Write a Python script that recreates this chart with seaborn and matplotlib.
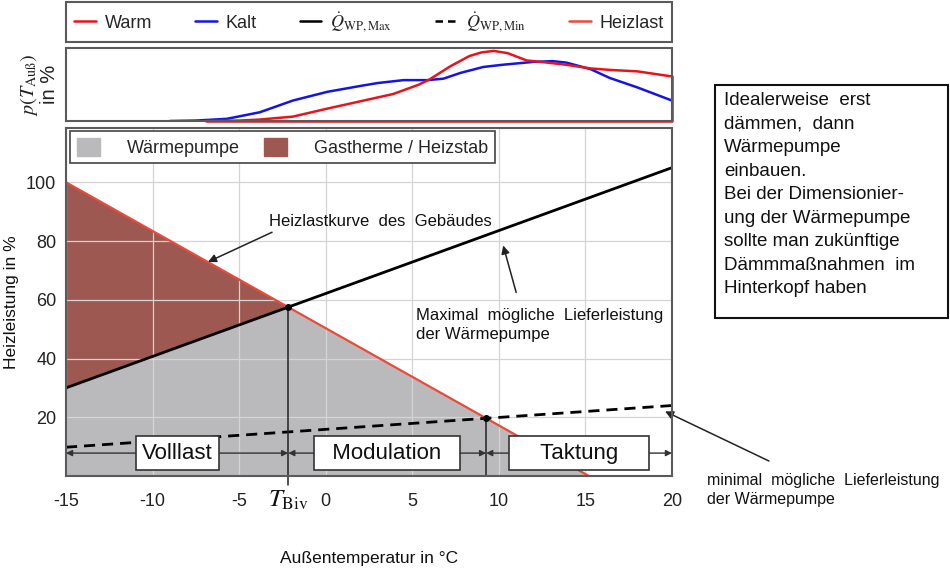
import numpy as np
import matplotlib.pyplot as plt
import matplotlib.patches as mpatches
import matplotlib.transforms as mtransforms
from matplotlib.lines import Line2D
import seaborn as sns

# Häufigkeit der Außentemperatur (oberes Diagramm), Werte in %
temp_kalt = [-9.0, -7.5, -5.7, -3.8, -1.9, 0.1, 2.0, 3.0, 4.5, 5.9, 6.8,
             7.8, 9.1, 10.2, 12.0, 13.1, 13.9, 15.3, 16.4, 18.0, 20.0]
p_kalt = [0, 0.03, 0.15, 0.6, 1.4, 2.0, 2.4, 2.6, 2.8, 2.8, 2.9,
          3.3, 3.7, 3.85, 4.05, 4.1, 4.0, 3.55, 2.95, 2.3, 1.4]
temp_warm = [-6.9, -5.0, -3.8, -1.9, 0.1, 2.0, 3.9, 5.4, 6.0, 7.2, 8.3,
             9.0, 9.7, 10.5, 11.6, 12.8, 13.9, 15.3, 16.4, 18.0, 20.0]
p_warm = [0, 0.03, 0.1, 0.3, 0.85, 1.35, 1.85, 2.5, 2.85, 3.75, 4.45,
          4.7, 4.8, 4.65, 4.15, 4.0, 3.85, 3.6, 3.5, 3.4, 3.05]

# Heizlast und Lieferleistung der Wärmepumpe (unteres Diagramm), Werte in %
temp_heizlast = [-15, 15.2]
heizlast = [100, 0]
temp_wp = [-15, 20]
wp_max = [30, 105]
wp_min = [9.8, 24]

phase_labels = ['Volllast', '  Modulation  ', '    Taktung    ']
x_ticks = [-15, -10, -5, 0, 5, 10, 15, 20]
y_ticks = [20, 40, 60, 80, 100]

c_warm = '#e8141c'
c_kalt = '#1414e6'
c_heiz = '#ec4a38'
c_grau = '#bababc'
c_braun = '#9c5851'
c_rahmen = '#5a5a5a'

sns.set_theme(style='white')
plt.rcParams['font.family'] = ['Liberation Sans', 'DejaVu Sans']
plt.rcParams['mathtext.fontset'] = 'stix'
plt.rcParams['axes.unicode_minus'] = False

W, H = 950, 570
fig = plt.figure(figsize=(W / 100, H / 100), dpi=100)
ax = fig.add_axes([66 / W, 94 / H, 606 / W, 348 / H])
ax_top = fig.add_axes([66 / W, 449 / H, 606 / W, 73 / H])

# --- oberes Diagramm ---
sns.lineplot(x=temp_kalt, y=p_kalt, ax=ax_top, color=c_kalt, lw=1.8)
sns.lineplot(x=temp_warm, y=p_warm, ax=ax_top, color=c_warm, lw=1.8)
ax_top.plot([temp_warm[-1], temp_warm[-1], temp_warm[0]], [p_warm[-1], 0, 0],
            color=c_warm, lw=1.8, clip_on=False)
ax_top.set_xlim(-15, 20)
ax_top.set_ylim(0, 5.0)
ax_top.set_xticks([])
ax_top.set_yticks([])
ax_top.set_ylabel(r'$p(T_{\mathrm{Auß}})$' + '\nin %', fontsize=14.5,
                  labelpad=5, color='#222', linespacing=1.0)
for s in ax_top.spines.values():
    s.set_color(c_rahmen)
    s.set_linewidth(1.5)

# --- unteres Diagramm ---
m_h, b_h = np.polyfit(temp_heizlast, heizlast, 1)
m_x, b_x = np.polyfit(temp_wp, wp_max, 1)
m_n, b_n = np.polyfit(temp_wp, wp_min, 1)
t_biv = (b_x - b_h) / (m_h - m_x)
q_biv = m_h * t_biv + b_h
t_takt = (b_n - b_h) / (m_h - m_n)
q_takt = m_h * t_takt + b_h

t = np.linspace(temp_heizlast[0], temp_heizlast[-1], 500)
hl = m_h * t + b_h
mx = m_x * t + b_x
ax.fill_between(t, 0, np.minimum(hl, mx), color=c_grau, lw=0, zorder=1)
ax.fill_between(t, mx, hl, where=hl > mx, interpolate=True, color=c_braun,
                lw=0, zorder=1)

ax.set_axisbelow(False)
ax.grid(True, color='#d4d4d4', lw=0.9, zorder=1.5)
for gl in ax.get_xgridlines() + ax.get_ygridlines():
    gl.set_zorder(1.5)

sns.lineplot(x=temp_heizlast, y=heizlast, ax=ax, color=c_heiz, lw=1.6, zorder=3)
sns.lineplot(x=temp_wp, y=wp_max, ax=ax, color='black', lw=2, zorder=3)
sns.lineplot(x=temp_wp, y=wp_min, ax=ax, color='black', lw=2, zorder=3,
             linestyle=(0, (4, 2.5)))

ax.plot([t_biv, t_biv], [-3, q_biv], color='#222', lw=1.1, zorder=3, clip_on=False)
ax.plot([t_takt, t_takt], [0, q_takt], color='#222', lw=1.1, zorder=3)
ax.plot([t_biv, t_takt], [q_biv, q_takt], 'o', ms=4, color='black', zorder=4)

# Betriebsbereiche
grenzen = [-15, t_biv, t_takt, 20]
y_phase = 7.8
for i, lab in enumerate(phase_labels):
    ax.annotate('', xy=(grenzen[i], y_phase), xytext=(grenzen[i + 1], y_phase),
                arrowprops=dict(arrowstyle='<|-|>', color='#333', lw=1,
                                mutation_scale=9, shrinkA=0, shrinkB=0),
                zorder=4)
    ax.text((grenzen[i] + grenzen[i + 1]) / 2, y_phase, lab, fontsize=16,
            ha='center', va='center', color='#111', zorder=5,
            bbox=dict(boxstyle='square,pad=0.28', fc='white', ec='#333', lw=1.2))

# Beschriftungen mit Pfeilen
pfeil = dict(arrowstyle='-|>', color='#222', lw=1.1, mutation_scale=12,
             shrinkA=0, shrinkB=0)
ax.text(-3.3, 86.5, 'Heizlastkurve  des  Gebäudes', fontsize=12, va='center',
        color='#111', zorder=5)
ax.annotate('', xy=(-6.8, 72.9), xytext=(-3.1, 83.0), arrowprops=pfeil, zorder=5)
ax.text(5.2, 51.5, 'Maximal  mögliche  Lieferleistung\nder Wärmepumpe',
        fontsize=12, va='center', color='#111', linespacing=1.35, zorder=5)
ax.annotate('', xy=(10.25, 78.5), xytext=(11.0, 62.5), arrowprops=pfeil, zorder=5)
ax.text(22.0, -4.7, 'minimal  mögliche  Lieferleistung\nder Wärmepumpe',
        fontsize=11.5, va='center', color='#111', linespacing=1.35,
        clip_on=False)
ax.annotate('', xy=(19.6, 22.0), xytext=(25.6, 5.1), arrowprops=pfeil,
            annotation_clip=False)

ax.set_xlim(-15, 20)
ax.set_ylim(0, 118.5)
ax.set_xticks(x_ticks)
ax.set_yticks(y_ticks)
ax.tick_params(length=0, labelsize=13, colors='#222')
ax.tick_params(axis='x', pad=12)
ax.tick_params(axis='y', pad=7)
trans = mtransforms.blended_transform_factory(ax.transData, ax.transAxes)
ax.text(t_biv, -0.07, r'$T_{\mathrm{Biv}}$', transform=trans, fontsize=18,
        ha='center', va='center', color='#111')
ax.set_ylabel('Heizleistung in %', fontsize=12.5, labelpad=5, color='#111')
ax.set_xlabel('Außentemperatur in °C', fontsize=12.5, color='#111')
ax.xaxis.set_label_coords(0.5, -0.215)
ax.xaxis.label.set_va('top')
for s in ax.spines.values():
    s.set_visible(True)
    s.set_color(c_rahmen)
    s.set_linewidth(1.5)
    s.set_zorder(6)

leg_main = ax.legend(handles=[mpatches.Patch(color=c_grau, label='Wärmepumpe'),
                              mpatches.Patch(color=c_braun, label='Gastherme / Heizstab')],
                     loc='upper left', bbox_to_anchor=(0.007, 0.99), ncol=2,
                     fontsize=13, handlelength=1.3, handleheight=1.2,
                     handletextpad=1.5, columnspacing=1.3, borderaxespad=0,
                     fancybox=False, framealpha=1, edgecolor='#444',
                     borderpad=0.35)
leg_main.get_frame().set_linewidth(1.2)
leg_main.set_zorder(7)

# Legende oben
handles = [Line2D([], [], color=c_warm, lw=1.8),
           Line2D([], [], color=c_kalt, lw=1.8),
           Line2D([], [], color='black', lw=1.8),
           Line2D([], [], color='black', lw=1.8, linestyle=(0, (3, 2))),
           Line2D([], [], color=c_heiz, lw=1.8)]
labels = ['Warm', 'Kalt', r'$\dot{Q}_{\mathrm{WP,Max}}$',
          r'$\dot{Q}_{\mathrm{WP,Min}}$', 'Heizlast']
leg_top = fig.legend(handles, labels, loc='lower left',
                     bbox_to_anchor=(66 / W, 528 / H, 606 / W, 37 / H),
                     mode='expand', ncol=5, fontsize=13, handlelength=1.2,
                     handletextpad=0.5, borderaxespad=0, fancybox=False,
                     framealpha=1, edgecolor=c_rahmen, borderpad=0.45)
leg_top.get_frame().set_linewidth(1.5)

# Hinweis-Kasten rechts
fig.patches.append(mpatches.Rectangle((715 / W, 1 - 318 / H), 233 / W, 233 / H,
                                      transform=fig.transFigure, fill=False,
                                      ec='#111', lw=1.5))
fig.text(724 / W, 1 - 92 / H,
         'Idealerweise  erst\ndämmen,  dann\nWärmepumpe\neinbauen.\n'
         'Bei der Dimensionier-\nung der Wärmepumpe\nsollte man zukünftige\n'
         'Dämmmaßnahmen  im\nHinterkopf haben',
         fontsize=13.5, va='top', ha='left', linespacing=1.5, color='#111')

fig.savefig('out.png', dpi=100)
